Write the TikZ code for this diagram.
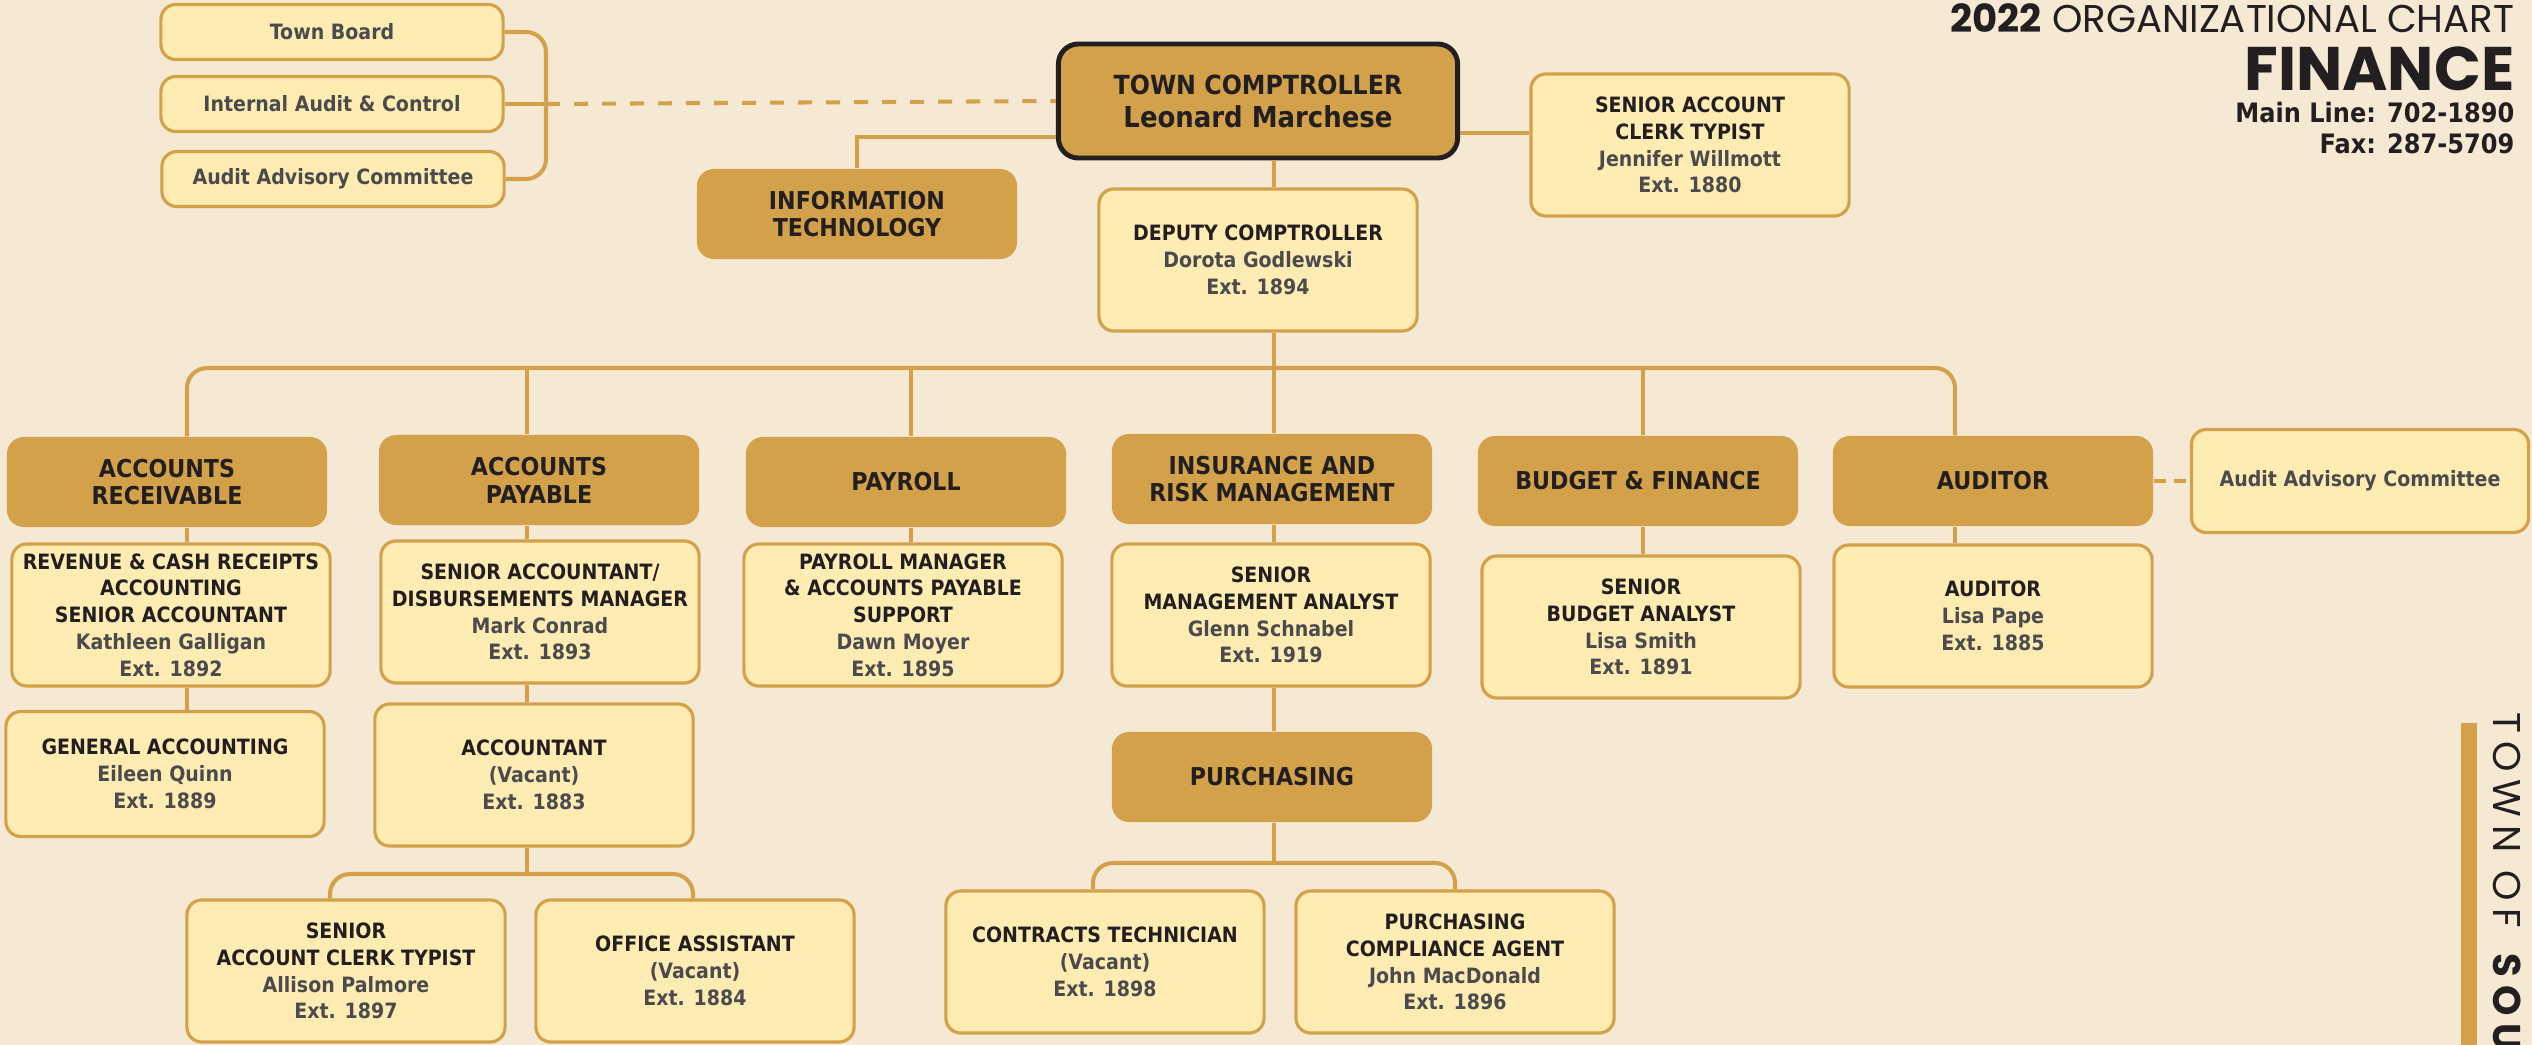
\documentclass[tikz,border=0pt]{standalone}
\usepackage{fontspec}
\setmainfont{DejaVu Sans}[FakeStretch=0.9]
\newfontfamily\headfont{Poppins}
\usepackage{xcolor}

\definecolor{chartbg}{HTML}{F5E9D4}
\definecolor{gold}{HTML}{D3A14A}
\definecolor{paper}{HTML}{FEECB3}
\definecolor{ink}{HTML}{231F20}
\definecolor{namegray}{HTML}{4B4B4D}

\newcommand{\nm}[1]{\textcolor{namegray}{#1}}

\begin{document}
\begin{tikzpicture}[
  x=0.01cm, y=-0.01cm,
  unit/.style={fill=gold, rounded corners=0.17cm, inner sep=0pt,
    minimum width=3.2cm, minimum height=0.9cm, align=center, text=ink,
    font=\bfseries\fontsize{7}{7.9}\selectfont},
  post/.style={draw=gold, line width=0.9pt, fill=paper, rounded corners=0.15cm,
    inner sep=0pt, minimum width=3.18cm, minimum height=1.42cm, align=center,
    text=ink, font=\bfseries\fontsize{6}{7.6}\selectfont},
  board/.style={post, minimum width=3.42cm, minimum height=0.55cm, text=namegray},
  link/.style={draw=gold, line width=1.15pt},
  dashlink/.style={link, dash pattern=on 0.14cm off 0.14cm},
  heading/.style={anchor=base east, inner sep=0pt, text=ink, text depth=0pt}
]

% Page
\fill[chartbg] (0,0) rectangle (2532,1045);
\useasboundingbox (0,0) rectangle (2532,1045);

% Oversight
\node[board] (tb) at (332,32) {Town Board};
\node[board] (iac) at (332,104) {Internal Audit \& Control};
\node[board] (aac) at (333,179) {Audit Advisory Committee};

% Comptroller's office
\node[unit, draw=ink, line width=1.4pt, minimum width=3.99cm, minimum height=1.14cm,
  rounded corners=0.2cm, font=\bfseries\fontsize{7.5}{9.4}\selectfont] (comp) at (1258,101)
  {TOWN COMPTROLLER\\{\fontsize{8.2}{9.4}\selectfont Leonard Marchese}};
\node[unit] (it) at (857,214) {INFORMATION\\TECHNOLOGY};
\node[post] (sact) at (1690,145) {SENIOR ACCOUNT\\CLERK TYPIST\\\nm{Jennifer Willmott}\\\nm{Ext. 1880}};
\node[post] (dep) at (1258,260) {DEPUTY COMPTROLLER\\\nm{Dorota Godlewski}\\\nm{Ext. 1894}};

% Divisions
\node[unit] (ar) at (167,482) {ACCOUNTS\\RECEIVABLE};
\node[unit] (ap) at (539,480) {ACCOUNTS\\PAYABLE};
\node[unit] (pay) at (906,482) {PAYROLL};
\node[unit] (ins) at (1272,479) {INSURANCE AND\\RISK MANAGEMENT};
\node[unit] (bud) at (1638,481) {BUDGET \& FINANCE};
\node[unit] (aud) at (1993,481) {AUDITOR};
\node[board, minimum width=3.37cm, minimum height=1.03cm] (aac2) at (2360,481) {Audit Advisory Committee};

% Staff
\node[post] (rev) at (171,615) {REVENUE \& CASH RECEIPTS\\ACCOUNTING\\SENIOR ACCOUNTANT\\\nm{Kathleen Galligan}\\\nm{Ext. 1892}};
\node[post] (sad) at (540,612) {SENIOR ACCOUNTANT/\\DISBURSEMENTS MANAGER\\\nm{Mark Conrad}\\\nm{Ext. 1893}};
\node[post] (pm) at (903,615) {PAYROLL MANAGER\\\& ACCOUNTS PAYABLE\\SUPPORT\\\nm{Dawn Moyer}\\\nm{Ext. 1895}};
\node[post] (sma) at (1271,615) {SENIOR\\MANAGEMENT ANALYST\\\nm{Glenn Schnabel}\\\nm{Ext. 1919}};
\node[post] (sba) at (1641,627) {SENIOR\\BUDGET ANALYST\\\nm{Lisa Smith}\\\nm{Ext. 1891}};
\node[post] (audp) at (1993,616) {AUDITOR\\\nm{Lisa Pape}\\\nm{Ext. 1885}};

\node[post, minimum height=1.25cm] (ga) at (165,774) {GENERAL ACCOUNTING\\\nm{Eileen Quinn}\\\nm{Ext. 1889}};
\node[post] (acct) at (534,775) {ACCOUNTANT\\\nm{(Vacant)}\\\nm{Ext. 1883}};
\node[unit] (pur) at (1272,777) {PURCHASING};

\node[post] (sacl) at (346,971) {SENIOR\\ACCOUNT CLERK TYPIST\\\nm{Allison Palmore}\\\nm{Ext. 1897}};
\node[post] (oa) at (695,971) {OFFICE ASSISTANT\\\nm{(Vacant)}\\\nm{Ext. 1884}};
\node[post] (ct) at (1105,962) {CONTRACTS TECHNICIAN\\\nm{(Vacant)}\\\nm{Ext. 1898}};
\node[post] (pca) at (1455,962) {PURCHASING\\COMPLIANCE AGENT\\\nm{John MacDonald}\\\nm{Ext. 1896}};

% Links to the comptroller
\coordinate (brk) at (546,104);
\coordinate (itbend) at (857,137);
\coordinate (sactin) at (1500,133);
\draw[link, rounded corners=0.2cm] (tb.east) -- (tb.east -| brk) -- (aac.east -| brk) -- (aac.east);
\draw[link] (iac.east) -- (brk);
\draw[dashlink] (brk) -- (comp.west);
\draw[link] (it.north) -- (itbend) -- (itbend -| comp.west);
\draw[link] (sactin -| comp.east) -- (sactin -| sact.west);

% Main bus
\coordinate (c1) at (187,368);
\coordinate (c2) at (527,368);
\coordinate (c3) at (911,368);
\coordinate (c4) at (1274,368);
\coordinate (c5) at (1643,368);
\coordinate (c6) at (1955,368);
\draw[link] (comp.south -| c4) -- (dep.north -| c4);
\draw[link] (dep.south -| c4) -- (c4);
\draw[link, rounded corners=0.2cm] (ar.north -| c1) -- (c1) -- (c6) -- (aud.north -| c6);
\foreach \c/\u in {c2/ap, c3/pay, c4/ins, c5/bud}
  \draw[link] (\c) -- (\u.north -| \c);
\foreach \c/\u/\p in {c1/ar/rev, c2/ap/sad, c3/pay/pm, c4/ins/sma, c5/bud/sba, c6/aud/audp}
  \draw[link] (\u.south -| \c) -- (\p.north -| \c);
\draw[dashlink, dash pattern=on 0.12cm off 0.08cm] (aud.east) -- (aac2.west);
\draw[link] (rev.south -| c1) -- (ga.north -| c1);
\draw[link] (sad.south -| c2) -- (acct.north -| c2);
\draw[link] (sma.south -| c4) -- (pur.north -| c4);

% Lower branches
\coordinate (k1) at (330,874);
\coordinate (k2) at (693,874);
\draw[link] (acct.south -| c2) -- (k1 -| c2);
\draw[link, rounded corners=0.2cm] (sacl.north -| k1) -- (k1) -- (k2) -- (oa.north -| k2);
\coordinate (q1) at (1093,863);
\coordinate (q2) at (1455,863);
\draw[link] (pur.south -| c4) -- (q1 -| c4);
\draw[link, rounded corners=0.2cm] (ct.north -| q1) -- (q1) -- (q2) -- (pca.north -| q2);

% Title block
\node[heading, font=\headfont\fontsize{11}{11}\selectfont] (yr) at (2515,32) {\textbf{2022} ORGANIZATIONAL CHART};
\node[heading, font=\headfont\bfseries\fontsize{17.5}{17.5}\selectfont] (dept) at (2515,90) {FINANCE};
\node[heading, font=\bfseries\fontsize{7.6}{7.6}\selectfont] (mainln) at (2515,122) {Main Line: 702-1890};
\node[heading, font=\bfseries\fontsize{7.6}{7.6}\selectfont] (fax) at (2515,153) {Fax: 287-5709};

% Side band
\fill[gold] (2461,723) rectangle (2477,1045);
\node[rotate=-90, anchor=base west, inner sep=0pt, text=ink,
  font=\headfont\fontsize{11}{11}\selectfont\addfontfeature{LetterSpace=20}] (town) at (2493,712)
  {TOWN OF \textbf{SOU}};

\end{tikzpicture}
\end{document}
